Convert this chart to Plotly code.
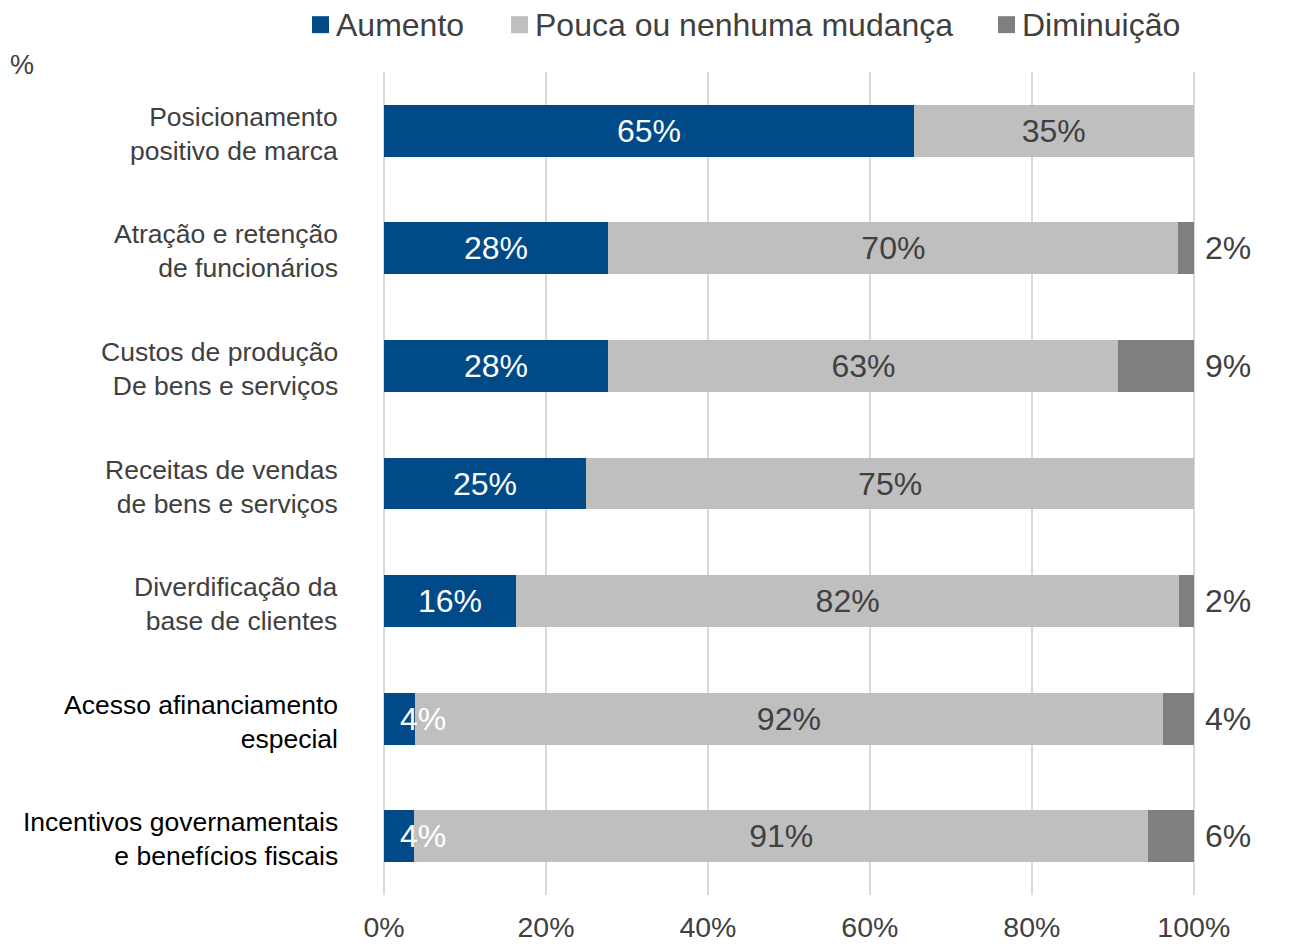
import plotly.graph_objects as go

# categories, top to bottom
categories = [
    'Posicionamento<br>positivo de marca',
    'Atração e retenção<br>de funcionários',
    'Custos de produção<br>De bens e serviços',
    'Receitas de vendas<br>de bens e serviços',
    'Diverdificação da<br>base de clientes',
    'Acesso afinanciamento<br>especial',
    'Incentivos governamentais<br>e benefícios fiscais',
]
aumento = [65.4, 27.7, 27.7, 25.0, 16.3, 3.8, 3.7]
pouca = [34.6, 70.4, 63.0, 75.0, 81.9, 92.4, 90.7]
diminuicao = [0.0, 1.9, 9.3, 0.0, 1.8, 3.8, 5.6]
label_colors = ['#404040'] * 5 + ['#000000'] * 2
x_ticks = [0, 20, 40, 60, 80, 100]

FONT = 'Liberation Sans, Arial, sans-serif'
BLUE = '#004a87'
LIGHT = '#bfbfbf'
DARK = '#7f7f7f'
TEXT = '#404040'
# plot area in page pixels (page has an 8px body margin)
PLOT_L, PLOT_T, PLOT_W, PLOT_H = 384, 72, 811, 826
# legend swatch left edges, in page pixels
LEGEND_X = [312, 511, 998]
LEGEND_Y = 25


def pct(v):
    return f'{round(v)}%'


def px_to_paper(px, py):
    return (px - PLOT_L) / PLOT_W, 1 - (py - PLOT_T) / PLOT_H


fig = go.Figure()
fig.add_bar(
    y=categories, x=aumento, name='Aumento', orientation='h',
    marker={'color': BLUE, 'line': {'width': 0}},
)
fig.add_bar(
    y=categories, x=pouca, name='Pouca ou nenhuma mudança', orientation='h',
    marker={'color': LIGHT, 'line': {'width': 0}},
    text=[pct(v) for v in pouca], textposition='inside', insidetextanchor='middle',
    textangle=0, constraintext='none',
    textfont={'color': TEXT, 'size': 32, 'family': FONT},
)
fig.add_bar(
    y=categories, x=diminuicao, name='Diminuição', orientation='h',
    marker={'color': DARK, 'line': {'width': 0}},
    textposition='none',
)

# Aumento labels: centred on the segment, or set just inside when it is too narrow
for cat, v in zip(categories, aumento):
    narrow = v * PLOT_W / 100 < 60
    fig.add_annotation(
        x=0 if narrow else v / 2, y=cat, xref='x', yref='y', text=pct(v),
        showarrow=False, xanchor='left' if narrow else 'center',
        xshift=14 if narrow else 0,
        font={'size': 32, 'color': 'white', 'family': FONT},
    )

# labels of Diminuição, outside the bar end
for cat, v in zip(categories, diminuicao):
    if v > 0:
        fig.add_annotation(
            x=100, y=cat, xref='x', yref='y', text=pct(v),
            showarrow=False, xanchor='left', xshift=9,
            font={'size': 32, 'color': TEXT, 'family': FONT},
        )

# category labels with per-row colors
for cat, col in zip(categories, label_colors):
    fig.add_annotation(
        x=0, y=cat, xref='paper', yref='y', text=cat, align='right',
        showarrow=False, xanchor='right', xshift=-44, yshift=-3,
        font={'size': 26.5, 'color': col, 'family': FONT},
    )

fig.add_annotation(
    x=0, y=1, xref='paper', yref='paper', text='|%',
    showarrow=False, xanchor='left', yanchor='middle', xshift=-383, yshift=7,
    font={'size': 27, 'color': TEXT, 'family': FONT},
)

# legend drawn by hand so it stays on one line, as in the reference
for trace, lx in zip(fig.data, LEGEND_X):
    x0, y0 = px_to_paper(lx, LEGEND_Y - 9)
    x1, y1 = px_to_paper(lx + 17, LEGEND_Y + 8)
    fig.add_shape(
        type='rect', xref='paper', yref='paper', x0=x0, x1=x1, y0=y1, y1=y0,
        fillcolor=trace.marker.color, line={'width': 0},
    )
    tx, ty = px_to_paper(lx + 22, LEGEND_Y)
    fig.add_annotation(
        x=tx, y=ty, xref='paper', yref='paper', text=trace.name,
        showarrow=False, xanchor='left', yanchor='middle',
        font={'size': 32, 'color': TEXT, 'family': FONT},
    )

fig.update_layout(
    barmode='stack',
    bargap=0.56,
    width=1289,
    height=947,
    margin={'l': PLOT_L - 8, 'r': 1289 + 8 - PLOT_L - PLOT_W,
            't': PLOT_T - 8, 'b': 947 + 8 - PLOT_T - PLOT_H},
    paper_bgcolor='white',
    plot_bgcolor='white',
    font={'family': FONT, 'color': TEXT},
    showlegend=False,
    xaxis={
        'range': [0, 100.15], 'tickvals': x_ticks,
        'ticktext': [f'{t}%' for t in x_ticks],
        'showgrid': True, 'gridcolor': '#d9d9d9', 'gridwidth': 2,
        'zeroline': True, 'zerolinecolor': '#d9d9d9', 'zerolinewidth': 2,
        'showline': False, 'ticklabelstandoff': 12,
        'tickfont': {'size': 28.5, 'color': TEXT}, 'ticks': '',
    },
    yaxis={
        'autorange': 'reversed', 'showticklabels': False,
        'showgrid': False, 'zeroline': False, 'showline': False,
    },
)

fig.write_html('out.html')
